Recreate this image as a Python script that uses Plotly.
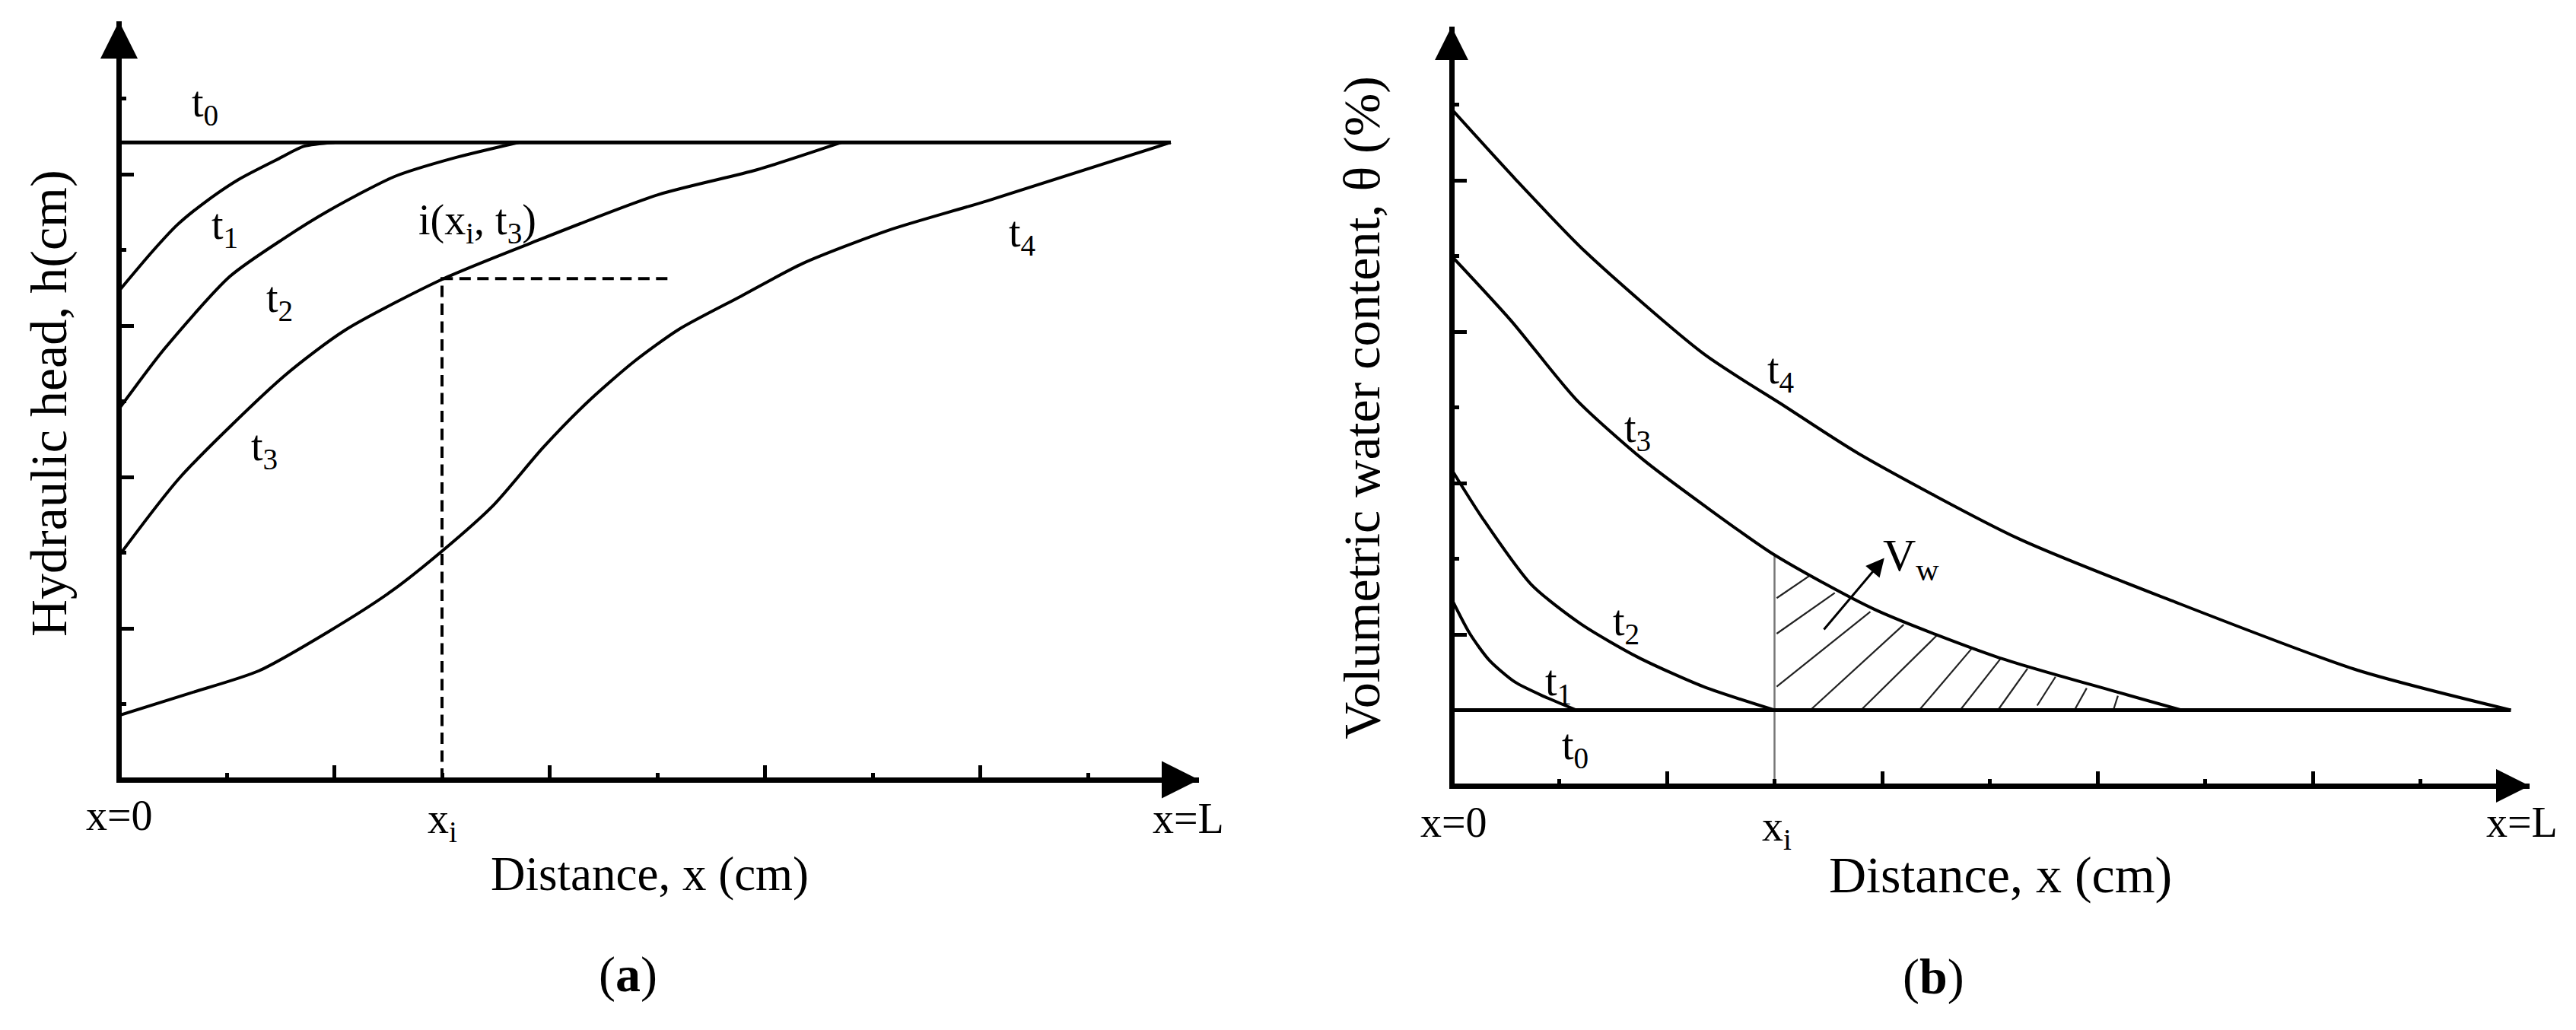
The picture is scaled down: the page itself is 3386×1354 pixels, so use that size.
import plotly.graph_objects as go

W, H = 3386, 1354
FONT = "Liberation Serif"
PAGE_MARGIN = 8  # browser default body margin around the plot div
AXIS_LW = 7
X_UNIT = 141.5
Y_UNIT = 99.5

# tick positions, both panels share them (arbitrary axis units, no numbers printed)
major_ticks = [2, 4, 6, 8]
minor_ticks = [1, 3, 5, 7, 9]

# panel (a) hydraulic head
a_t0_x = [0, 9.77]
a_t0_y = [8.42, 8.42]
a_t1_x = [0, 0.31, 0.54, 0.78, 1.11, 1.49, 1.72, 2.0]
a_t1_y = [6.46, 6.98, 7.33, 7.61, 7.93, 8.21, 8.37, 8.42]
a_t2_x = [0, 0.42, 1.03, 1.53, 1.95, 2.56, 3.10, 3.71]
a_t2_y = [4.90, 5.69, 6.65, 7.15, 7.52, 7.97, 8.21, 8.42]
a_t3_x = [0, 0.57, 1.53, 2.10, 3.0, 3.79, 5.01, 5.93, 6.71]
a_t3_y = [2.96, 4.00, 5.33, 5.94, 6.61, 7.07, 7.73, 8.06, 8.42]
a_t4_x = [0, 0.65, 1.30, 1.95, 2.52, 3.0, 3.48, 3.94, 4.36, 4.78, 5.20, 5.78, 6.35, 7.15, 8.07, 9.77]
a_t4_y = [0.85, 1.14, 1.44, 1.96, 2.48, 3.02, 3.63, 4.39, 5.0, 5.52, 5.95, 6.39, 6.82, 7.26, 7.65, 8.42]
a_guide_x = [3.0, 3.0, 5.12]
a_guide_y = [0, 6.62, 6.62]

# panel (b) water content
b_t0_x = [0, 9.84]
b_t0_y = [1.0, 1.0]
b_t1_x = [0, 0.17, 0.35, 0.59, 0.86, 1.16]
b_t1_y = [2.47, 2.01, 1.66, 1.37, 1.18, 1.0]
b_t2_x = [0, 0.29, 0.74, 1.20, 1.73, 2.34, 3.0]
b_t2_y = [4.18, 3.53, 2.66, 2.14, 1.70, 1.31, 1.0]
b_t3_x = [0, 0.55, 1.16, 1.77, 2.34, 3.0, 3.93, 5.07, 6.13, 6.78]
b_t3_y = [7.0, 6.15, 5.10, 4.32, 3.71, 3.05, 2.33, 1.70, 1.26, 1.0]
b_t4_x = [0, 0.59, 1.24, 2.34, 3.10, 3.78, 5.26, 6.70, 8.41, 9.84]
b_t4_y = [8.94, 8.02, 7.06, 5.71, 5.01, 4.39, 3.27, 2.44, 1.53, 1.0]
b_wall_x = [3.0, 3.0]
b_wall_y = [0, 3.05]
hatch_x = [3.02, 3.32, None, 3.02, 3.56, None, 3.02, 3.89, None, 3.34, 4.20, None, 3.81, 4.51, None,
           4.35, 4.83, None, 4.73, 5.10, None, 5.08, 5.35, None, 5.44, 5.61, None, 5.79, 5.90, None, 6.15, 6.19]
hatch_y = [2.48, 2.77, None, 2.01, 2.55, None, 1.31, 2.30, None, 1.01, 2.13, None, 1.01, 1.99, None,
           1.01, 1.81, None, 1.01, 1.68, None, 1.01, 1.55, None, 1.06, 1.44, None, 1.01, 1.29, None, 1.01, 1.19]

# text, x, y in axis units, font size, angle
a_labels = [("t<sub>0</sub>", 0.80, 8.91, 56, 0), ("t<sub>1</sub>", 0.98, 7.30, 56, 0),
            ("t<sub>2</sub>", 1.49, 6.33, 56, 0), ("t<sub>3</sub>", 1.35, 4.37, 56, 0),
            ("t<sub>4</sub>", 8.39, 7.20, 56, 0), ("i(x<sub>i</sub>, t<sub>3</sub>)", 3.33, 7.36, 56, 0),
            ("x=0", 0, -0.47, 56, 0), ("x<sub>i</sub>", 3.0, -0.55, 56, 0), ("x=L", 9.93, -0.51, 56, 0),
            ("Distance, x (cm)", 4.93, -1.25, 63, 0), ("Hydraulic head, h(cm)", -0.65, 4.97, 68, -90),
            ("(<b>a</b>)", 4.73, -2.57, 66, 0)]
b_labels = [("t<sub>0</sub>", 1.15, 0.50, 56, 0), ("t<sub>1</sub>", 0.99, 1.35, 56, 0),
            ("t<sub>2</sub>", 1.62, 2.14, 56, 0), ("t<sub>3</sub>", 1.73, 4.69, 56, 0),
            ("t<sub>4</sub>", 3.06, 5.47, 56, 0), ("V<sub>w</sub>", 4.27, 3.0, 60, 0),
            ("x=0", 0.02, -0.48, 56, 0), ("x<sub>i</sub>", 3.02, -0.57, 56, 0), ("x=L", 9.94, -0.48, 56, 0),
            ("Distance, x (cm)", 5.10, -1.18, 68, 0), ("Volumetric water content, θ (%)", -0.84, 5.0, 68, -90),
            ("(<b>b</b>)", 4.48, -2.52, 66, 0)]

# axis line centres and arrow tips on the page: left, right tip, bottom, top tip, head size
a_box = (156.5, 1576, 1025, 28, 49)
b_box = (1908, 3325, 1033, 35, 44)

fig = go.Figure()


def add_line(x, y, axes, width=4, color="black", dash="solid", smooth=False):
    line = dict(color=color, width=width, dash=dash)
    if smooth:
        line.update(shape="spline", smoothing=0.7)
    fig.add_trace(go.Scatter(x=x, y=y, mode="lines", xaxis=axes[0], yaxis=axes[1], showlegend=False,
                             hoverinfo="skip", line=line))


A = ("x", "y")
B = ("x2", "y2")

add_line(a_t0_x, a_t0_y, A, width=5)
add_line(a_t1_x, a_t1_y, A, smooth=True)
add_line(a_t2_x, a_t2_y, A, smooth=True)
add_line(a_t3_x, a_t3_y, A, smooth=True)
add_line(a_t4_x, a_t4_y, A, smooth=True)
add_line(a_guide_x, a_guide_y, A, width=4, dash="15px,8.5px")

add_line(b_wall_x, b_wall_y, B, width=2.5, color="#777777")
add_line(hatch_x, hatch_y, B, width=2.2, color="#222222")
add_line(b_t0_x, b_t0_y, B, width=5)
add_line(b_t1_x, b_t1_y, B, smooth=True)
add_line(b_t2_x, b_t2_y, B, smooth=True)
add_line(b_t3_x, b_t3_y, B, smooth=True)
add_line(b_t4_x, b_t4_y, B, smooth=True)


def page_x(px):
    return (px - PAGE_MARGIN) / W


def page_y(py):
    return 1 - (py - PAGE_MARGIN) / H


def make_axis(domain, anchor, axis_range):
    return dict(domain=domain, anchor=anchor, range=axis_range,
                showgrid=False, zeroline=False, showline=True, linecolor="black", linewidth=AXIS_LW,
                showticklabels=False, ticks="inside", tickvals=major_ticks, ticklen=16, tickwidth=4.5,
                tickcolor="black",
                minor=dict(tickvals=minor_ticks, ticks="inside", ticklen=6, tickwidth=4.5, tickcolor="black"))


# the axis line sits outside the plot area, so each range starts half a line in
def x_axis(box, anchor):
    left, right, _, _, _ = box
    return make_axis([page_x(left + AXIS_LW / 2), page_x(right)], anchor,
                     [AXIS_LW / 2 / X_UNIT, (right - left) / X_UNIT])


def y_axis(box, anchor):
    _, _, bottom, top, _ = box
    return make_axis([page_y(bottom - AXIS_LW / 2), page_y(top)], anchor,
                     [AXIS_LW / 2 / Y_UNIT, (bottom - top) / Y_UNIT])


fig.update_layout(
    width=W, height=H, margin=dict(l=0, r=0, t=0, b=0), showlegend=False,
    paper_bgcolor="white", plot_bgcolor="white",
    xaxis=x_axis(a_box, "y"), yaxis=y_axis(a_box, "x"),
    xaxis2=x_axis(b_box, "y2"), yaxis2=y_axis(b_box, "x2"),
)

# arrow heads at the end of each axis
for left, right, bottom, top, head in (a_box, b_box):
    half = head / 2
    fig.add_shape(type="path", xref="paper", yref="paper", fillcolor="black", line_width=0,
                  path=f"M{page_x(right - head)},{page_y(bottom - half)} L{page_x(right)},{page_y(bottom)} "
                       f"L{page_x(right - head)},{page_y(bottom + half)} Z")
    fig.add_shape(type="path", xref="paper", yref="paper", fillcolor="black", line_width=0,
                  path=f"M{page_x(left - half)},{page_y(top + head)} L{page_x(left)},{page_y(top)} "
                       f"L{page_x(left + half)},{page_y(top + head)} Z")


def add_labels(labels, box):
    # annotations on data refs vanish outside the axis range, so these go on paper
    left, _, bottom, _, _ = box
    for text, x, y, size, angle in labels:
        fig.add_annotation(text=text, x=page_x(left + x * X_UNIT), y=page_y(bottom - y * Y_UNIT),
                           xref="paper", yref="paper", showarrow=False, textangle=angle,
                           xanchor="center", yanchor="middle",
                           font=dict(family=FONT, size=size, color="black"))


add_labels(a_labels, a_box)
add_labels(b_labels, b_box)

# V_w pointer
fig.add_annotation(x=4.02, y=3.01, ax=3.45, ay=2.05, xref="x2", yref="y2", axref="x2", ayref="y2", text="",
                   showarrow=True, arrowhead=2, arrowsize=1.6, arrowwidth=3, arrowcolor="black")

fig.write_html("out.html")
